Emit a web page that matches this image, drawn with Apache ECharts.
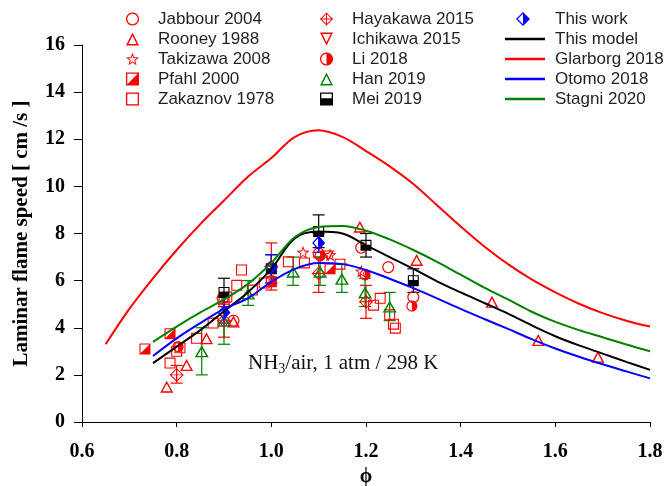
<!DOCTYPE html>
<html>
<head>
<meta charset="utf-8">
<script src="https://cdn.jsdelivr.net/npm/echarts@6/dist/echarts.min.js"></script>
<style>
  html, body { margin: 0; padding: 0; background: #fff; }
  #chart { width: 666px; height: 486px; }
</style>
</head>
<body>
<div id="chart"></div>
<script>
// ---- kinetic-model curves: laminar flame speed (cm/s) vs equivalence ratio ----
const phiModel = [0.75, 0.8, 0.85, 0.9, 0.95, 1.0, 1.05, 1.1, 1.15, 1.2, 1.25, 1.3, 1.35, 1.4, 1.45, 1.5, 1.55, 1.6, 1.65, 1.7, 1.75, 1.8];
const thisModel = [2.5, 3.2, 3.9, 4.7, 5.5, 6.5, 7.8, 8.08, 8.0, 7.5, 7.0, 6.5, 5.97, 5.5, 5.05, 4.6, 4.1, 3.64, 3.25, 2.9, 2.55, 2.21];
const otomo2018 = [2.8, 3.55, 4.2, 4.8, 5.25, 5.95, 6.5, 6.75, 6.7, 6.45, 6.08, 5.68, 5.25, 4.8, 4.37, 3.95, 3.52, 3.12, 2.77, 2.45, 2.15, 1.85];
const stagni2020 = [3.4, 4.05, 4.65, 5.2, 5.85, 6.75, 7.85, 8.28, 8.32, 8.12, 7.75, 7.3, 6.8, 6.25, 5.7, 5.2, 4.68, 4.25, 3.9, 3.6, 3.29, 3.0];
const phiGlarborg = [0.65, 0.7, 0.75, 0.8, 0.85, 0.9, 0.95, 1.0, 1.05, 1.1, 1.15, 1.2, 1.25, 1.3, 1.35, 1.4, 1.45, 1.5, 1.55, 1.6, 1.65, 1.7, 1.75, 1.8];
const glarborg2018 = [3.3, 4.8, 6.1, 7.3, 8.4, 9.4, 10.4, 11.2, 12.1, 12.38, 12.1, 11.5, 10.85, 10.1, 9.2, 8.3, 7.45, 6.7, 6.05, 5.5, 5.02, 4.62, 4.3, 4.05];

// ---- measurements [phi, S_L] ----
const jabbour2004 = [[0.897, 5.25], [0.92, 4.3], [1.1, 7.15], [1.19, 7.4], [1.247, 6.57], [1.3, 5.3]];
const rooney1988 = [[0.779, 1.5], [0.821, 2.42], [0.863, 3.55], [0.92, 4.26], [1.187, 8.29], [1.307, 6.88], [1.466, 5.1], [1.564, 3.48], [1.69, 2.77]];
const takizawa2008 = [[1.067, 7.2], [1.124, 7.1], [1.19, 6.4]];
const pfahl2000 = [[0.733, 3.1], [0.786, 3.75], [1.0, 5.95], [1.124, 6.5]];
const zakaznov1978 = [[0.786, 2.5], [0.8, 3.0], [0.807, 3.15], [0.842, 3.55], [0.877, 4.2], [0.9, 5.1], [0.906, 5.3], [0.927, 5.8], [0.937, 6.45], [0.96, 5.6], [0.985, 5.9], [1.036, 6.8], [1.07, 6.75], [1.145, 6.7], [1.216, 4.96], [1.23, 5.25], [1.25, 4.55], [1.258, 4.15], [1.262, 3.98]];
const hayakawa2015 = [[0.8, 2.0], [0.9, 4.3], [1.0, 6.6], [1.1, 6.3], [1.2, 5.1]];
const hayakawaLow = [1.65, 3.6, 5.6, 5.5, 4.4];
const hayakawaHigh = [2.4, 5.0, 7.6, 7.0, 5.8];
const ichikawa2015 = [[1.12, 7.05]];
const li2018 = [[0.803, 3.2], [1.0, 6.0], [1.103, 7.05], [1.198, 6.24], [1.297, 4.92]];
const han2019 = [[0.853, 3.0], [0.9, 4.3], [0.951, 5.45], [1.046, 6.38], [1.103, 6.38], [1.149, 6.08], [1.198, 5.5], [1.25, 4.9]];
const hanLow = [2.0, 3.3, 4.95, 5.8, 5.8, 5.5, 4.9, 4.3];
const hanHigh = [4.0, 5.3, 6.0, 7.0, 7.0, 6.7, 6.1, 5.5];
const mei2019 = [[0.9, 5.5], [1.0, 6.5], [1.1, 8.08], [1.2, 7.5], [1.3, 6.0]];
const meiLow = [4.9, 5.9, 7.4, 7.0, 5.5];
const meiHigh = [6.1, 7.1, 8.79, 8.0, 6.5];
const thisWork = [[0.9, 4.65], [1.0, 6.55], [1.1, 7.6]];
const thisWorkLow = [4.2, 5.9, 7.2];
const thisWorkHigh = [5.1, 7.1, 8.0];

// axis ticks
const xTicks = { min: 0.6, max: 1.8, step: 0.2 };
const yTicks = { min: 0, max: 16, step: 2 };

// ---- marker outlines built as filled rings (outer CW, inner CCW) ----
function toPath(p) {
  return 'M' + p.map(q => q[0].toFixed(2) + ',' + q[1].toFixed(2)).join(' L') + ' Z';
}
function arcPts(cx, cy, r, n, a0, a1) {
  const out = [];
  for (let i = 0; i <= n; i++) {
    const t = a0 + (a1 - a0) * i / n;
    out.push([cx + r * Math.cos(t), cy + r * Math.sin(t)]);
  }
  return out;
}
function shrink(p, c, k) {
  return p.map(q => [c[0] + (q[0] - c[0]) * k, c[1] + (q[1] - c[1]) * k]);
}
function ring(outer, c, k) {
  return toPath(outer) + ' ' + toPath(shrink(outer, c, k).reverse());
}
const circleOuter = arcPts(50, 50, 50, 48, 0, Math.PI * 2).slice(0, 48);
const triUp = [[50, 0], [100, 100], [0, 100]];
const triDown = [[0, 0], [100, 0], [50, 100]];
const square = [[0, 0], [100, 0], [100, 100], [0, 100]];
const diamond = [[50, 0], [100, 50], [50, 100], [0, 50]];
const starPts = [];
for (let i = 0; i < 10; i++) {
  const a = -Math.PI / 2 + i * Math.PI / 5;
  const r = i % 2 === 0 ? 50 : 21;
  starPts.push([50 + r * Math.cos(a), 50 + r * Math.sin(a)]);
}

const SYM = {
  circle: 'path://' + ring(circleOuter, [50, 50], 0.8),
  triUp: 'path://' + ring(triUp, [50, 69.1], 0.64),
  triDown: 'path://' + ring(triDown, [50, 30.9], 0.64),
  star: 'path://' + ring(starPts, [50, 50], 0.62),
  square: 'path://' + ring(square, [50, 50], 0.8),
  pfahl: 'path://' + ring(square, [50, 50], 0.8) + ' ' + toPath([[90, 10], [90, 90], [10, 90]]),
  mei: 'path://' + ring(square, [50, 50], 0.8) + ' ' + toPath([[10, 45], [90, 45], [90, 90], [10, 90]]),
  li: 'path://' + ring(circleOuter, [50, 50], 0.8) + ' ' + toPath(arcPts(50, 50, 42, 24, -Math.PI / 2, Math.PI / 2)),
  thisWork: 'path://' + ring(diamond, [50, 50], 0.74) + ' ' + toPath([[50, 0], [100, 50], [50, 100]]),
  hayakawa: 'path://' + ring(diamond, [50, 50], 0.8) + ' ' +
    toPath([[46.5, 0], [53.5, 0], [53.5, 100], [46.5, 100]]) + ' ' +
    toPath([[0, 46.5], [100, 46.5], [100, 53.5], [0, 53.5]])
};

const RED = '#ff0000', GREEN = '#008000', BLUE = '#0000ff', BLACK = '#000000';
const SERIF = 'Liberation Serif, Times New Roman, serif';

function scatter(name, data, symbol, color, size) {
  return {
    name, type: 'scatter', data, symbol, symbolSize: size,
    itemStyle: { color, opacity: 1 }, z: 3, silent: true
  };
}
function errorBars(name, points, low, high, color) {
  return {
    name, type: 'custom', z: 2, silent: true,
    data: points.map((p, i) => [p[0], low[i], high[i]]),
    encode: { x: 0, y: [1, 2] },
    renderItem(params, api) {
      const lo = api.coord([api.value(0), api.value(1)]);
      const hi = api.coord([api.value(0), api.value(2)]);
      const w = 6;
      const style = { stroke: color, lineWidth: 1.2 };
      return {
        type: 'group',
        children: [
          { type: 'line', shape: { x1: lo[0], y1: lo[1], x2: hi[0], y2: hi[1] }, style },
          { type: 'line', shape: { x1: lo[0] - w, y1: lo[1], x2: lo[0] + w, y2: lo[1] }, style },
          { type: 'line', shape: { x1: hi[0] - w, y1: hi[1], x2: hi[0] + w, y2: hi[1] }, style }
        ]
      };
    }
  };
}
function curve(name, xs, ys, color) {
  return {
    name, type: 'line', data: xs.map((x, i) => [x, ys[i]]),
    smooth: 0.35, symbol: 'none', showSymbol: false, z: 4, silent: true,
    lineStyle: { color, width: 2 }, itemStyle: { color }
  };
}

const legendText = { fontFamily: 'Liberation Sans, Arial, sans-serif', fontSize: 17, color: '#1f1f2a', lineHeight: 20 };
const legendBase = {
  orient: 'vertical', itemGap: 0, itemWidth: 13, itemHeight: 13, selectedMode: false,
  textStyle: Object.assign({ padding: [0, 0, 0, 14] }, legendText)
};
const curveNames = ['This model', 'Glarborg 2018', 'Otomo 2018', 'Stagni 2020'];

const chart = echarts.init(document.getElementById('chart'), null, { renderer: 'canvas' });
chart.setOption({
  animation: false,
  backgroundColor: '#ffffff',
  grid: { left: 82, right: 16, top: 45, bottom: 64, containLabel: false, outerBoundsMode: 'none' },
  legend: [
    Object.assign({}, legendBase, { left: 121, top: 4, data: ['Jabbour 2004', 'Rooney 1988', 'Takizawa 2008', 'Pfahl 2000', 'Zakaznov 1978'] }),
    Object.assign({}, legendBase, { left: 315, top: 4, data: ['Hayakawa 2015', 'Ichikawa 2015', 'Li 2018', 'Han 2019', 'Mei 2019'] }),
    Object.assign({}, legendBase, { left: 511, top: 4, itemWidth: 14, itemHeight: 15,
      textStyle: Object.assign({ padding: [0, 0, 0, 20] }, legendText), data: ['This work'] }),
    Object.assign({}, legendBase, { left: 500, top: 24, itemWidth: 40, itemHeight: 2.6,
      textStyle: Object.assign({ padding: [0, 0, 0, 5] }, legendText),
      data: curveNames.map(name => ({ name, icon: 'rect' })) })
  ],
  xAxis: {
    type: 'value', min: xTicks.min, max: xTicks.max, interval: xTicks.step,
    name: 'ϕ', nameLocation: 'middle', nameGap: 45,
    nameTextStyle: { fontFamily: SERIF, fontWeight: 'bold', fontSize: 20, color: '#000' },
    axisLine: { onZero: false, lineStyle: { color: '#000', width: 1 } },
    axisTick: { show: true, length: 5, lineStyle: { color: '#000' } },
    axisLabel: {
      margin: 20, color: '#000', fontSize: 20, fontWeight: 'bold', fontFamily: SERIF,
      formatter: v => v.toFixed(1)
    },
    splitLine: { show: false }
  },
  yAxis: {
    type: 'value', min: yTicks.min, max: yTicks.max, interval: yTicks.step,
    name: 'Laminar flame speed [ cm /s ]', nameLocation: 'middle', nameGap: 50, nameRotate: 90,
    nameTextStyle: { fontFamily: SERIF, fontWeight: 'bold', fontSize: 21, color: '#000' },
    axisLine: { show: true, onZero: false, lineStyle: { color: '#000', width: 1 } },
    axisTick: { show: true, length: 8, lineStyle: { color: '#000' } },
    axisLabel: { margin: 17, color: '#000', fontSize: 20, fontWeight: 'bold', fontFamily: SERIF },
    splitLine: { show: false }
  },
  graphic: [{
    type: 'text', left: 248, top: 353, silent: true,
    style: {
      text: '{m|NH}{s|3}{m|/air, 1 atm / 298 K}',
      rich: {
        m: { fontFamily: SERIF, fontSize: 21, fill: '#111' },
        s: { fontFamily: SERIF, fontSize: 14, fill: '#111', verticalAlign: 'bottom', padding: [11, 0, 0, 0] }
      }
    }
  }],
  series: [
    errorBars('Hayakawa 2015 bars', hayakawa2015, hayakawaLow, hayakawaHigh, RED),
    errorBars('Han 2019 bars', han2019, hanLow, hanHigh, GREEN),
    errorBars('Mei 2019 bars', mei2019, meiLow, meiHigh, BLACK),
    errorBars('This work bars', thisWork, thisWorkLow, thisWorkHigh, BLUE),
    scatter('Jabbour 2004', jabbour2004, SYM.circle, RED, 12),
    scatter('Rooney 1988', rooney1988, SYM.triUp, RED, [13, 12]),
    scatter('Takizawa 2008', takizawa2008, SYM.star, RED, 13),
    scatter('Pfahl 2000', pfahl2000, SYM.pfahl, RED, 11),
    scatter('Zakaznov 1978', zakaznov1978, SYM.square, RED, 11),
    scatter('Hayakawa 2015', hayakawa2015, SYM.hayakawa, RED, 14),
    scatter('Ichikawa 2015', ichikawa2015, SYM.triDown, RED, [12, 11]),
    scatter('Li 2018', li2018, SYM.li, RED, 11),
    scatter('Han 2019', han2019, SYM.triUp, GREEN, [14, 12]),
    scatter('Mei 2019', mei2019, SYM.mei, BLACK, 11),
    scatter('This work', thisWork, SYM.thisWork, BLUE, [13, 15]),
    curve('This model', phiModel, thisModel, BLACK),
    curve('Glarborg 2018', phiGlarborg, glarborg2018, RED),
    curve('Otomo 2018', phiModel, otomo2018, BLUE),
    curve('Stagni 2020', phiModel, stagni2020, GREEN)
  ]
});
</script>
</body>
</html>
